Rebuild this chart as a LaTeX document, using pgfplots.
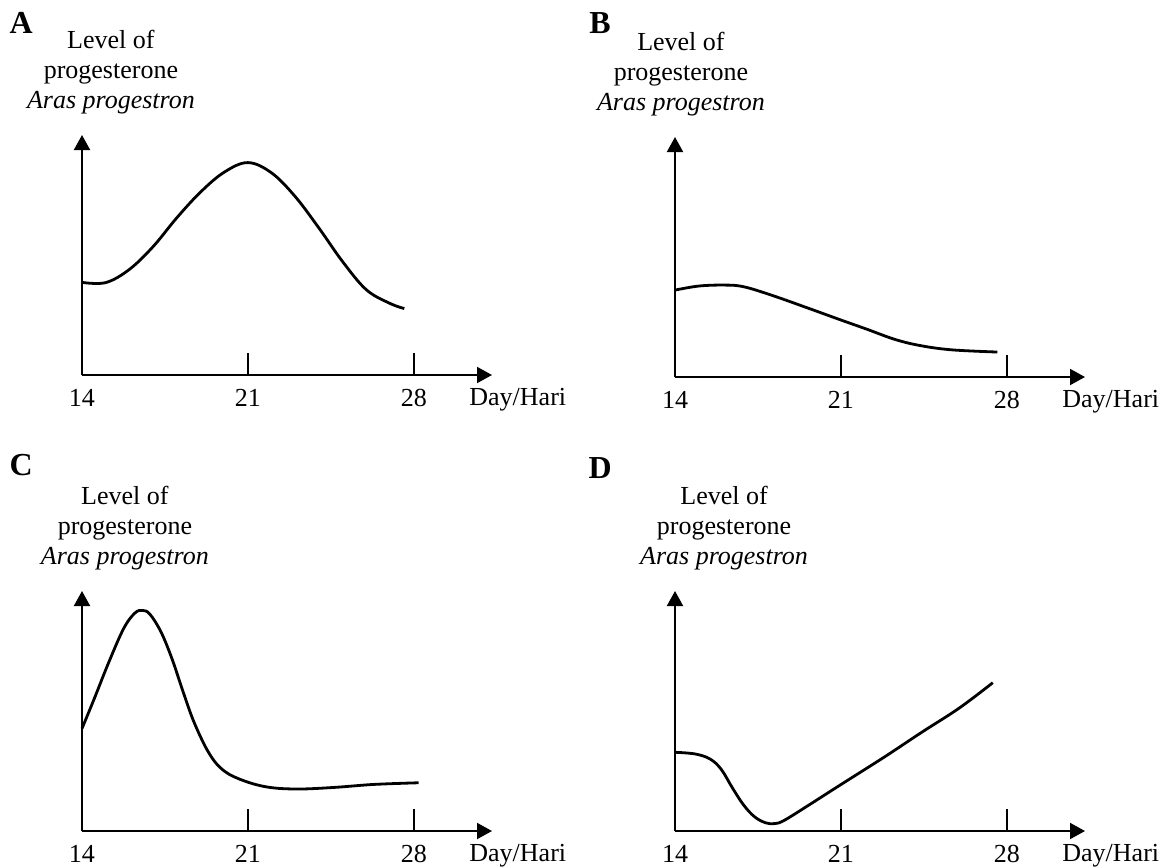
\documentclass[border=0pt]{standalone}
\usepackage{pgfplots}
\pgfplotsset{compat=1.18}
\usepackage{fontspec}
\setmainfont{Liberation Serif}
\usetikzlibrary{arrows.meta}

\pgfplotstableread{
x y
14 3.86
15.0 3.85
16.0 4.4
17.0 5.35
18.0 6.55
19.0 7.62
20.0 8.45
21.0 8.85
22.0 8.42
23.0 7.43
24.0 6.12
25.0 4.72
26.0 3.55
27.0 2.98
27.6 2.77
}\dataA
\pgfplotstableread{
x y
14 3.62
15.0 3.79
16.1 3.83
16.9 3.76
18.1 3.40
19.7 2.84
20.9 2.41
22.1 1.99
23.3 1.56
24.4 1.30
25.7 1.13
27.6 1.04
}\dataB
\pgfplotstableread{
x y
14 4.27
14.5 5.47
15.13 7.03
15.76 8.44
16.23 9.08
16.55 9.19
16.86 9.04
17.33 8.30
17.8 7.17
18.28 5.76
18.75 4.48
19.38 3.21
20.0 2.5
20.87 2.08
21.9 1.82
23.15 1.75
24.7 1.82
26.3 1.94
28.2 2.01
}\dataC
\pgfplotstableread{
x y
14 3.28
14.85 3.21
15.48 3.0
15.95 2.57
16.42 1.8
16.89 1.09
17.36 0.59
17.83 0.34
18.22 0.31
18.62 0.45
19.71 1.12
20.88 1.86
22.86 3.1
24.42 4.12
25.99 5.12
27.41 6.18
}\dataD

\pgfplotsset{
  panel/.style={
    scale only axis, width=205pt, height=120pt,
    xmin=14, xmax=31.3, ymin=0, ymax=10,
    axis lines=left,
    axis line style={line width=1pt, -{Triangle[width=8pt,length=7.5pt]}},
    xtick={14,21,28}, ytick=\empty,
    xticklabels={14,21,28},
    tick align=inside,
    major tick length=11pt,
    every tick/.style={black, line width=1pt},
    xticklabel style={anchor=base, yshift=-15.5pt, inner sep=0pt},
    clip=false,
    anchor=south west,
  },
  curve/.style={black, line width=1.4pt, smooth, tension=0.6, mark=none},
}
\newcommand{\paneltext}[3]{%
  \node[anchor=base, inner sep=0pt, font=\fontsize{16pt}{18pt}\selectfont\bfseries] at (axis cs:#2,#3) {#1};
}
\newcommand{\ylab}[1]{%
  \node[anchor=base, inner sep=0pt] at (axis cs:#1,13.625) {Level of};
  \node[anchor=base, inner sep=0pt] at (axis cs:#1,12.375) {progesterone};
  \node[anchor=base, inner sep=0pt, font=\itshape] at (axis cs:#1,11.125) {Aras progestron};
  \node[anchor=base west, inner sep=0pt, yshift=-15pt] at (axis cs:30.33,0) {Day/Hari};
}

\begin{document}
\fontsize{13pt}{15pt}\selectfont
\begin{tikzpicture}
\useasboundingbox (0,0) rectangle (586pt,-433.5pt);

\begin{axis}[panel, at={(41pt,-187.5pt)}]
\addplot[curve] table[x=x,y=y] {\dataA};
\paneltext{A}{11.43}{14.25}
\ylab{15.22}
\end{axis}

\begin{axis}[panel, at={(337.5pt,-188.5pt)}]
\addplot[curve] table[x=x,y=y] {\dataB};
\paneltext{B}{10.84}{14.33}
\ylab{14.25}
\end{axis}

\begin{axis}[panel, at={(41pt,-415.5pt)}]
\addplot[curve] table[x=x,y=y] {\dataC};
\paneltext{C}{11.43}{14.8}
\ylab{15.81}
\end{axis}

\begin{axis}[panel, at={(337.5pt,-415.5pt)}]
\addplot[curve] table[x=x,y=y] {\dataD};
\paneltext{D}{10.84}{14.67}
\ylab{16.07}
\end{axis}
\end{tikzpicture}
\end{document}
